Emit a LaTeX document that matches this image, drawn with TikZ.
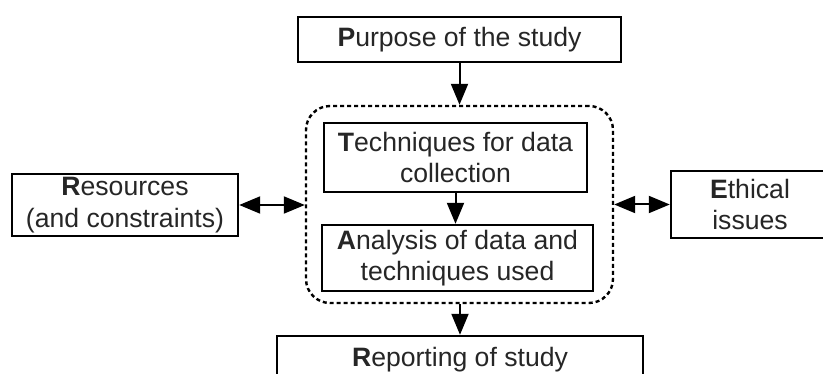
\documentclass[tikz,border=0pt]{standalone}
\usepackage{fontspec}
\setmainfont{Liberation Sans}
\usetikzlibrary{arrows.meta}
\begin{document}
\begin{tikzpicture}[x=1pt,y=-1pt,
  box/.style={draw=black, line width=2.4pt, fill=white, inner sep=0pt, align=center,
    text=black!85, font=\fontsize{26.6}{31.5}\selectfont},
  grpbox/.style={draw=black, line width=2.4pt, dash pattern=on 4pt off 3pt,
    rounded corners=24pt, inner sep=0pt},
  arr/.style={line width=2pt, -{Triangle[length=21pt,width=17pt]}},
  darr/.style={line width=2pt, {Triangle[length=21pt,width=17pt]}-{Triangle[length=21pt,width=17pt]}}]
\useasboundingbox (0,0) rectangle (823,374);
\fill[white] (0,0) rectangle (823,374);
% group
\node[grpbox, minimum width=307pt, minimum height=197pt] (grp) at (459.5,204.5) {};
% boxes
\node[box, minimum width=323pt, minimum height=45pt] (purp) at (459.5,39.5) {\textbf{P}urpose of the study};
\node[box, minimum width=263pt, minimum height=69pt] (tech) at (455.5,157.5) {\textbf{T}echniques for data\\collection};
\node[box, minimum width=271pt, minimum height=66pt] (ana) at (457.5,258) {\textbf{A}nalysis of data and\\techniques used};
\node[box, minimum width=226pt, minimum height=62pt] (res) at (125,205) {\textbf{R}esources\\(and constraints)};
\node[box, minimum width=158pt, minimum height=67pt] (eth) at (750,204.5) {\textbf{E}thical\\issues};
\node[box, minimum width=366pt, minimum height=48pt] (rep) at (460,360) {\textbf{R}eporting of study};
% connectors
\draw[arr] (purp.south) -- (purp.south |- grp.north);
\draw[arr] (tech.south) -- (tech.south |- ana.north);
\draw[arr] (rep.north |- grp.south) -- (rep.north);
\draw[darr] (res.east) -- (res.east -| grp.west);
\draw[darr] (grp.east) -- (grp.east -| eth.west);
\end{tikzpicture}
\end{document}
